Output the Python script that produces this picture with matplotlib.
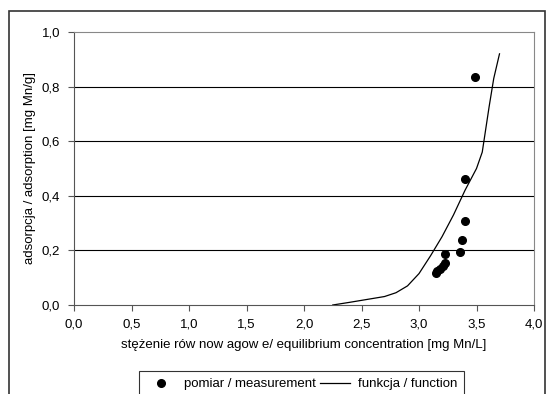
import matplotlib.pyplot as plt
from matplotlib.patches import Rectangle
from matplotlib.ticker import FuncFormatter, MultipleLocator

plt.rcParams.update({"font.family": ["Liberation Sans", "DejaVu Sans"], "font.size": 9.5})

# measured points
meas_x = [3.145, 3.157, 3.18, 3.205, 3.227, 3.227, 3.354, 3.375, 3.399, 3.396, 3.485]
meas_y = [0.119, 0.123, 0.132, 0.144, 0.155, 0.185, 0.193, 0.238, 0.307, 0.462, 0.834]

# fitted function
fit_x = [2.25, 2.4, 2.5, 2.6, 2.7, 2.8, 2.9, 3.0, 3.1, 3.2, 3.3, 3.4, 3.5, 3.55, 3.61, 3.65, 3.7]
fit_y = [0.0, 0.01, 0.017, 0.024, 0.031, 0.045, 0.07, 0.115, 0.18, 0.25, 0.33, 0.42, 0.5, 0.56, 0.727, 0.83, 0.92]

comma = FuncFormatter(lambda v, pos: f"{v:.1f}".replace(".", ","))

fig = plt.figure(figsize=(5.46, 3.94), dpi=100)
ax = fig.add_axes([74 / 546, 89 / 394, 460 / 546, 273 / 394])

# outer chart frame
fig.patches.append(Rectangle((9 / 546, -0.1), 536 / 546, 1.1 - 11 / 394,
                             transform=fig.transFigure, fill=False,
                             edgecolor="#333333", linewidth=1.2))

for yv in [0.2, 0.4, 0.6, 0.8]:
    ax.axhline(yv, color="black", linewidth=0.8, zorder=1)

ax.plot(meas_x, meas_y, "o", color="black", markersize=5.5,
        label="pomiar / measurement", zorder=3)
ax.plot(fit_x, fit_y, "-", color="black", linewidth=0.9,
        label="funkcja / function", zorder=2)

ax.set_xlim(0, 4)
ax.set_ylim(0, 1)
ax.xaxis.set_major_locator(MultipleLocator(0.5))
ax.yaxis.set_major_locator(MultipleLocator(0.2))
ax.xaxis.set_major_formatter(comma)
ax.yaxis.set_major_formatter(comma)
ax.tick_params(direction="out", length=4, width=0.8, color="#555555", pad=6)

for side in ["top", "right"]:
    ax.spines[side].set_color("#888888")
ax.spines["left"].set_color("#555555")
ax.spines["bottom"].set_color("#555555")

ax.set_xlabel("stężenie rów now agow e/ equilibrium concentration [mg Mn/L]", labelpad=6)
ax.set_ylabel("adsorpcja / adsorption [mg Mn/g]", labelpad=4)

leg = fig.legend(loc="upper center", bbox_to_anchor=(0.552, 0.074), ncol=2,
                 frameon=True, fancybox=False, edgecolor="black",
                 handlelength=2.3, columnspacing=0.3, handletextpad=0.6,
                 borderpad=0.5)
leg.get_frame().set_linewidth(0.8)

fig.savefig("out.png", dpi=100)
